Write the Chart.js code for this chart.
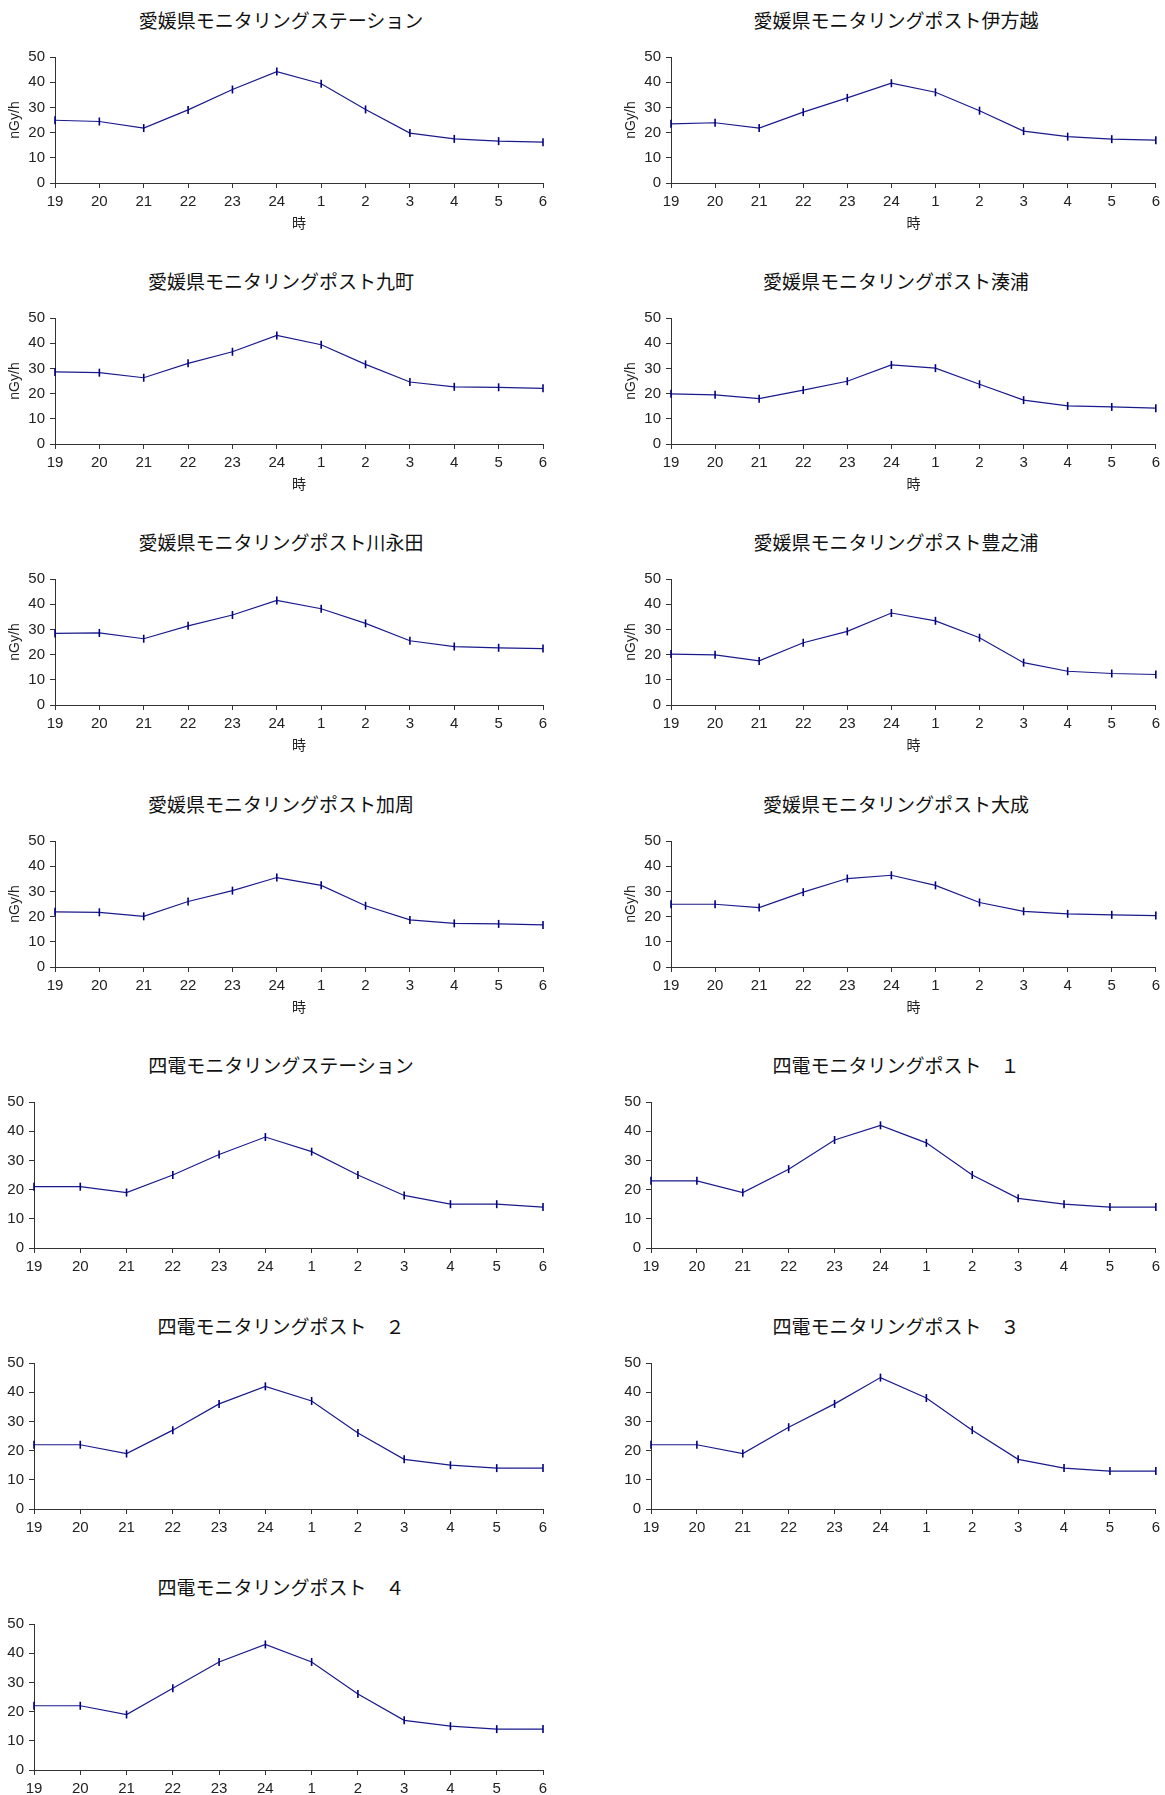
<!DOCTYPE html>
<html lang="ja">
<head>
<meta charset="utf-8">
<title>時刻別空間線量率</title>
<script src="https://cdn.jsdelivr.net/npm/chart.js@4.4.1/dist/chart.umd.min.js"></script>
<style>
  html, body { margin: 0; padding: 0; background: #fff; overflow: hidden; }
  #page { position: relative; width: 1165px; height: 1795px; }
  .ttl {
    position: absolute; width: 420px; margin-left: -210px; text-align: center;
    font-family: 'Noto Sans CJK JP', sans-serif; font-size: 19px; line-height: 24px;
    color: #111; white-space: pre;
  }
  canvas { position: absolute; }
</style>
</head>
<body>
<div id="page"></div>
<script>
const hours = ['19', '20', '21', '22', '23', '24', '1', '2', '3', '4', '5', '6'];

const ehimeStation = [24.9, 24.4, 21.8, 29.0, 37.1, 44.2, 39.4, 29.2, 19.8, 17.5, 16.6, 16.2];
const ikata        = [23.5, 23.9, 21.8, 28.1, 33.8, 39.6, 36.0, 28.7, 20.6, 18.4, 17.4, 17.0];
const kumachi      = [28.6, 28.3, 26.3, 32.0, 36.6, 43.1, 39.4, 31.6, 24.6, 22.7, 22.5, 22.1];
const minatoura    = [19.9, 19.5, 18.0, 21.4, 24.9, 31.4, 30.1, 23.7, 17.4, 15.1, 14.7, 14.2];
const kawanagata   = [28.4, 28.6, 26.3, 31.4, 35.7, 41.5, 38.2, 32.4, 25.5, 23.2, 22.7, 22.4];
const toyonoura    = [20.2, 19.9, 17.5, 24.7, 29.2, 36.5, 33.4, 26.7, 16.8, 13.4, 12.5, 12.1];
const kashu        = [21.9, 21.7, 20.1, 26.0, 30.3, 35.5, 32.4, 24.3, 18.7, 17.3, 17.1, 16.7];
const taisei       = [24.9, 24.9, 23.6, 29.7, 35.1, 36.4, 32.4, 25.6, 22.1, 21.1, 20.7, 20.4];
const yondenStation = [21, 21, 19, 25, 32, 38, 33, 25, 18, 15, 15, 14];
const yondenPost1   = [23, 23, 19, 27, 37, 42, 36, 25, 17, 15, 14, 14];
const yondenPost2   = [22, 22, 19, 27, 36, 42, 37, 26, 17, 15, 14, 14];
const yondenPost3   = [22, 22, 19, 28, 36, 45, 38, 27, 17, 14, 13, 13];
const yondenPost4   = [22, 22, 19, 28, 37, 43, 37, 26, 17, 15, 14, 14];

const titles = [
    '愛媛県モニタリングステーション',
    '愛媛県モニタリングポスト伊方越',
    '愛媛県モニタリングポスト九町',
    '愛媛県モニタリングポスト湊浦',
    '愛媛県モニタリングポスト川永田',
    '愛媛県モニタリングポスト豊之浦',
    '愛媛県モニタリングポスト加周',
    '愛媛県モニタリングポスト大成',
    '四電モニタリングステーション',
    '四電モニタリングポスト　１',
    '四電モニタリングポスト　２',
    '四電モニタリングポスト　３',
    '四電モニタリングポスト　４'
];
const series = [ehimeStation, ikata, kumachi, minatoura, kawanagata, toyonoura, kashu, taisei,
    yondenStation, yondenPost1, yondenPost2, yondenPost3, yondenPost4];

const yUnit = 'nGy/h';
const xUnit = '時';

const tickFont = "'Liberation Sans Narrow', 'Liberation Sans', Arial, sans-serif";
const jpFont = "'Noto Sans CJK JP', sans-serif";
const axisColor = '#333';
const textColor = '#222';

function buildPanel(i) {
    let page = document.getElementById('page');
    let col = i % 2;
    let rowTop = Math.round(Math.floor(i / 2) * 261.2);
    let ehime = i < 8;

    let title = document.createElement('div');
    title.className = 'ttl';
    title.textContent = titles[i];
    title.style.left = (col === 0 ? 281 : 896) + 'px';
    title.style.top = (rowTop + 8) + 'px';
    page.appendChild(title);

    let canvasLeft = col === 0 ? 0 : 616;
    let width = col === 0 ? 562 : 549;
    let yWidth = ehime ? 55 : (col === 0 ? 34 : 35);
    let xHeight = ehime ? 52 : 30;
    let height = ehime ? 205 : 203;
    let chartBottom = height - xHeight;

    let canvas = document.createElement('canvas');
    canvas.width = width;
    canvas.height = height;
    canvas.style.left = canvasLeft + 'px';
    canvas.style.top = (rowTop + 30) + 'px';
    page.appendChild(canvas);

    new Chart(canvas.getContext('2d'), {
        type: 'line',
        data: {
            labels: hours,
            datasets: [{
                data: series[i],
                borderColor: '#1a1a8c',
                borderWidth: 1.2,
                pointStyle: 'line',
                pointRotation: 90,
                pointRadius: 4,
                pointBorderWidth: 1.6,
                pointBorderColor: '#000080',
                tension: 0,
                fill: false,
                clip: false
            }]
        },
        options: {
            responsive: false,
            animation: false,
            devicePixelRatio: 1,
            layout: {
                padding: { top: 27, left: 0, right: col === 0 ? 19 : 7, bottom: 0 }
            },
            plugins: {
                legend: { display: false },
                tooltip: { enabled: false }
            },
            scales: {
                x: {
                    offset: false,
                    grid: { drawOnChartArea: false, tickLength: 5, color: axisColor, offset: false },
                    border: { color: axisColor, width: 1 },
                    ticks: {
                        color: textColor, padding: 5, maxRotation: 0, autoSkip: false,
                        font: { family: tickFont, size: 15 }
                    },
                    title: {
                        display: ehime,
                        text: xUnit,
                        color: textColor,
                        font: { family: jpFont, size: 14 },
                        padding: { top: 4, bottom: 4 }
                    },
                    afterFit: function(scale) { scale.height = xHeight; }
                },
                y: {
                    min: 0,
                    max: 50,
                    grid: { drawOnChartArea: false, tickLength: 5, color: axisColor },
                    border: { color: axisColor, width: 1 },
                    ticks: {
                        stepSize: 10, color: textColor, padding: 5,
                        font: { family: tickFont, size: 15 }
                    },
                    title: {
                        display: ehime,
                        text: yUnit,
                        color: textColor,
                        font: { family: "'Liberation Sans', Arial, sans-serif", size: 14 },
                        padding: { top: 7, bottom: 0 }
                    },
                    afterFit: function(scale) { scale.width = yWidth; }
                }
            }
        }
    });
}

for (let i = 0; i < series.length; i++) {
    buildPanel(i);
}
</script>
</body>
</html>
